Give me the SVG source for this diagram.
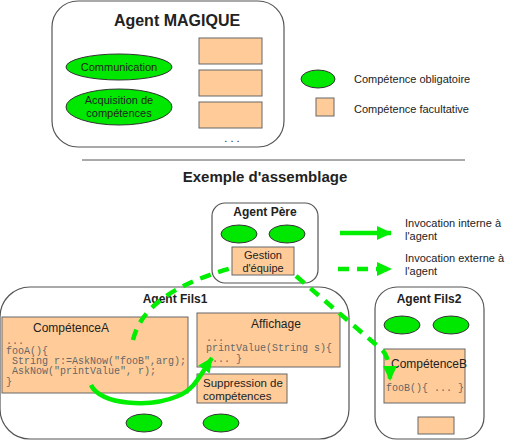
<svg xmlns="http://www.w3.org/2000/svg" width="506" height="445" viewBox="0 0 506 445">
<defs>
<style>
.box{fill:#fff;stroke:#555;stroke-width:1.2}
.req{fill:#00e800;stroke:#333;stroke-width:1}
.opt{fill:#ffcc99;stroke:#666;stroke-width:1}
.t{font-family:"Liberation Sans",Arial,sans-serif;fill:#222}
.b{font-weight:bold}
.code{font-family:"Liberation Mono","Courier New",monospace;font-size:10px;fill:#666}
.ln{fill:none;stroke:#00ee00;stroke-width:4.5}
.dash{stroke-dasharray:11 8}
</style>
<marker id="ah" markerUnits="userSpaceOnUse" markerWidth="16" markerHeight="16" viewBox="0 0 16 16" refX="14" refY="8" orient="auto">
<path d="M0,1 L15,8 L0,15 Z" fill="#00ee00"/>
</marker>
</defs>

<g id="agent-magique">
<rect class="box" x="52" y="1" width="232" height="146" rx="26"/>
<text class="t b" x="177" y="26" font-size="16" text-anchor="middle">Agent MAGIQUE</text>
<ellipse class="req" cx="119" cy="67" rx="53" ry="13"/>
<text class="t" x="119" y="71" font-size="11" text-anchor="middle">Communication</text>
<ellipse class="req" cx="119" cy="107" rx="53" ry="18"/>
<text class="t" x="119" y="104" font-size="11" text-anchor="middle">Acquisition de</text>
<text class="t" x="119" y="117" font-size="11" text-anchor="middle">compétences</text>
<rect class="opt" x="199" y="38" width="63" height="26"/>
<rect class="opt" x="199" y="70" width="63" height="26"/>
<rect class="opt" x="199" y="102" width="63" height="26"/>
<text class="t" x="232" y="142" font-size="11" text-anchor="middle">. . .</text>
</g>

<g id="legend">
<ellipse class="req" cx="318" cy="79" rx="17" ry="9"/>
<text class="t" x="354" y="83" font-size="11">Compétence obligatoire</text>
<rect class="opt" x="316" y="98" width="18" height="18"/>
<text class="t" x="354" y="113" font-size="11">Compétence facultative</text>
<text class="t" x="405" y="227" font-size="11">Invocation interne à</text>
<text class="t" x="405" y="240" font-size="11">l'agent</text>
<text class="t" x="405" y="262" font-size="11">Invocation externe à</text>
<text class="t" x="405" y="275" font-size="11">l'agent</text>
</g>

<line x1="82" y1="160" x2="465" y2="160" stroke="#555" stroke-width="1"/>
<text class="t b" x="265" y="182" font-size="15" text-anchor="middle">Exemple d'assemblage</text>

<g id="agent-pere">
<rect class="box" x="212" y="203" width="106" height="80" rx="13"/>
<text class="t b" x="265" y="216" font-size="12" text-anchor="middle">Agent Père</text>
<ellipse class="req" cx="239" cy="234" rx="18" ry="9"/>
<ellipse class="req" cx="287" cy="234" rx="18" ry="9"/>
<rect class="opt" x="232" y="247" width="62" height="28"/>
<text class="t" x="263" y="259" font-size="11" text-anchor="middle">Gestion</text>
<text class="t" x="263" y="272" font-size="11" text-anchor="middle">d'équipe</text>
</g>

<g id="agent-fils1">
<rect class="box" x="0" y="287" width="349" height="152" rx="30"/>
<text class="t b" x="175" y="303" font-size="12" text-anchor="middle">Agent Fils1</text>
<rect class="opt" x="2" y="317" width="186" height="76"/>
<text class="t" x="33" y="332" font-size="12">CompétenceA</text>
<text class="code" x="6" y="344" xml:space="preserve">...</text>
<text class="code" x="6" y="354" xml:space="preserve">fooA(){</text>
<text class="code" x="6" y="364" xml:space="preserve"> String r:=AskNow("fooB",arg);</text>
<text class="code" x="6" y="374" xml:space="preserve"> AskNow("printValue", r);</text>
<text class="code" x="6" y="385" xml:space="preserve">}</text>
<rect class="opt" x="197" y="313" width="143" height="54"/>
<text class="t" x="276" y="328" font-size="12" text-anchor="middle">Affichage</text>
<text class="code" x="206" y="341" xml:space="preserve">...</text>
<text class="code" x="206" y="351" xml:space="preserve">printValue(String s){</text>
<text class="code" x="206" y="362" xml:space="preserve"> ... }</text>
<rect class="opt" x="197" y="374" width="90" height="29"/>
<text class="t" x="203" y="387" font-size="11.5">Suppression de</text>
<text class="t" x="203" y="400" font-size="11.5">compétences</text>
<ellipse class="req" cx="144" cy="423" rx="18" ry="9"/>
<ellipse class="req" cx="221" cy="423" rx="18" ry="9"/>
</g>

<g id="agent-fils2">
<rect class="box" x="375" y="287" width="109" height="152" rx="22"/>
<text class="t b" x="429" y="303" font-size="12" text-anchor="middle">Agent Fils2</text>
<ellipse class="req" cx="402" cy="325" rx="18" ry="9"/>
<ellipse class="req" cx="451" cy="325" rx="18" ry="9"/>
<rect class="opt" x="384" y="349" width="81" height="54"/>
<text class="t" x="391" y="368" font-size="12">CompétenceB</text>
<text class="code" x="386" y="391" xml:space="preserve">fooB(){ ... }</text>
<rect class="opt" x="418" y="417" width="36" height="17"/>
</g>

<g id="connectors">
<path class="ln" d="M91,385 C100,405 150,408 178,396 C195,389 200,375 212,358" marker-end="url(#ah)"/>
<path class="ln dash" d="M133,340 C140,310 170,285 232,268"/>
<path class="ln dash" d="M296,276 L381,349 Q390,356 390,380" marker-end="url(#ah)"/>
<line class="ln" x1="340" y1="233" x2="391" y2="233" marker-end="url(#ah)"/>
<line class="ln dash" x1="338" y1="269" x2="391" y2="269" marker-end="url(#ah)"/>
</g>
</svg>
